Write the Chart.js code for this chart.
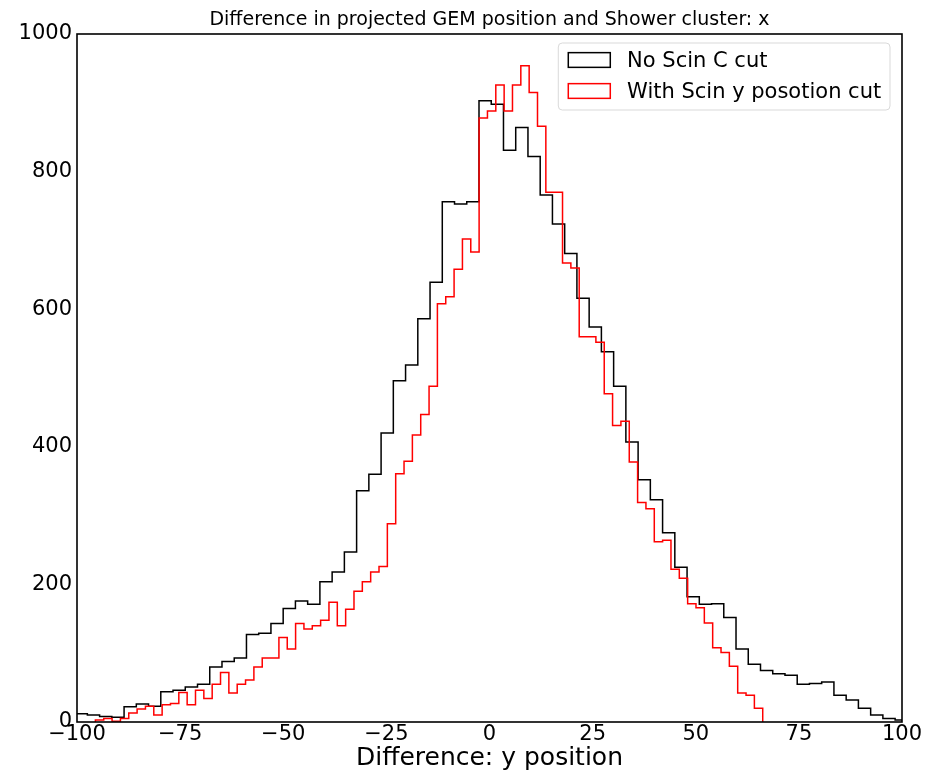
<!DOCTYPE html>
<html>
<head>
<meta charset="utf-8">
<script src="https://cdn.jsdelivr.net/npm/chart.js@4.4.0/dist/chart.umd.min.js"></script>
<style>
html,body{margin:0;padding:0;background:#fff;}
#wrap{width:927px;height:773px;}
</style>
</head>
<body>
<div id="wrap"><canvas id="c" width="927" height="773"></canvas></div>
<script>
// ---- data ----
const chartTitle = 'Difference in projected GEM position and Shower cluster: x';
const xAxisTitle = 'Difference: y position';
const seriesLabels = ['No Scin C cut', 'With Scin y posotion cut'];

// "No Scin C cut" histogram: first bin edge, bin width, counts
const noCutStart = -100.456;
const noCutWidth = 2.967;
const noCutCounts = [12,10,8,7,22,26,23,44,46,51,
  55,80,88,93,127,129,143,165,176,171,
  204,218,247,336,360,420,496,519,586,639,
  756,753,756,903,898,831,864,822,766,724,
  681,616,574,538,488,407,352,323,275,225,
  182,171,172,152,106,84,75,70,68,55,
  56,58,39,32,20,10,5,3];

// "With Scin y posotion cut" histogram
const scinCutStart = -95.54;
const scinCutWidth = 2.0222;
const scinCutCounts = [3,5,1,5,13,19,23,10,25,27,
  43,25,46,34,55,72,42,55,61,80,
  93,93,123,106,143,135,140,148,174,140,
  164,190,204,218,226,288,361,379,417,447,
  488,608,618,658,702,683,878,888,926,888,
  926,954,915,866,770,770,667,660,560,560,
  552,477,431,437,378,319,310,262,264,222,
  209,172,166,144,108,101,81,42,39,20];

const xTicks = [-100,-75,-50,-25,0,25,50,75,100];
const yTicks = [0,200,400,600,800,1000];

// ---- build step outlines (matplotlib histtype='step') ----
function stepPoints(start, width, counts) {
  const pts = [{x: start, y: 0}];
  counts.forEach((c, i) => pts.push({x: start + i * width, y: c}));
  const end = start + counts.length * width;
  pts.push({x: end, y: counts[counts.length - 1]});
  pts.push({x: end, y: 0});
  return pts;
}

const FONT = 'DejaVu Sans';

const framePlugin = {
  id: 'frame',
  afterDatasetsDraw(chart) {
    const {ctx, chartArea: a} = chart;
    ctx.save();
    ctx.strokeStyle = '#000';
    ctx.lineWidth = 1.6;
    ctx.strokeRect(a.left, a.top, a.right - a.left, a.bottom - a.top);
    ctx.restore();
  }
};

const legendPlugin = {
  id: 'mplLegend',
  afterDraw(chart) {
    const {ctx, chartArea: a} = chart;
    const fs = 21;
    ctx.save();
    ctx.font = fs + 'px "' + FONT + '"';
    const sets = chart.data.datasets;
    let maxW = 0;
    sets.forEach(d => { maxW = Math.max(maxW, ctx.measureText(d.label).width); });
    const pad = 0.4 * fs, handleW = 2.0 * fs, handleH = 0.7 * fs, gap = 0.8 * fs;
    const rowH = 31;
    const w = pad + handleW + gap + maxW + pad + 2;
    const h = 67;
    const right = a.right - 12;
    const left = right - w;
    const top = a.top + 9;
    // frame
    const r = 4;
    ctx.beginPath();
    ctx.moveTo(left + r, top);
    ctx.lineTo(right - r, top);
    ctx.quadraticCurveTo(right, top, right, top + r);
    ctx.lineTo(right, top + h - r);
    ctx.quadraticCurveTo(right, top + h, right - r, top + h);
    ctx.lineTo(left + r, top + h);
    ctx.quadraticCurveTo(left, top + h, left, top + h - r);
    ctx.lineTo(left, top + r);
    ctx.quadraticCurveTo(left, top, left + r, top);
    ctx.closePath();
    ctx.fillStyle = 'rgba(255,255,255,0.8)';
    ctx.fill();
    ctx.strokeStyle = '#d9d9d9';
    ctx.lineWidth = 1;
    ctx.stroke();
    sets.forEach((d, i) => {
      const cy = top + 17 + i * rowH;
      ctx.strokeStyle = d.borderColor;
      ctx.lineWidth = 1.5;
      ctx.strokeRect(left + 10, cy - handleH / 2, handleW, handleH);
      ctx.fillStyle = '#000';
      ctx.textBaseline = 'middle';
      ctx.textAlign = 'left';
      ctx.fillText(d.label, left + 10 + handleW + gap, cy + 1.5);
    });
    ctx.restore();
  }
};

const minusFmt = v => String(v).replace('-', '\u2212');

new Chart(document.getElementById('c'), {
  type: 'line',
  data: {
    datasets: [
      {
        label: seriesLabels[0],
        data: stepPoints(noCutStart, noCutWidth, noCutCounts),
        borderColor: '#000000',
        borderWidth: 1.5,
        stepped: true,
        pointRadius: 0,
        fill: false,
        order: 2
      },
      {
        label: seriesLabels[1],
        data: stepPoints(scinCutStart, scinCutWidth, scinCutCounts),
        borderColor: '#ff0000',
        borderWidth: 1.5,
        stepped: true,
        pointRadius: 0,
        fill: false,
        order: 1
      }
    ]
  },
  options: {
    responsive: false,
    animation: false,
    devicePixelRatio: 1,
    layout: {padding: {left: 0, right: 25, top: 0, bottom: 0}},
    plugins: {
      legend: {display: false},
      title: {display: false},
      tooltip: {enabled: false}
    },
    scales: {
      x: {
        type: 'linear',
        position: 'bottom',
        min: -100, max: 100,
        afterBuildTicks: s => { s.ticks = xTicks.map(v => ({value: v})); },
        afterFit: s => { s.height = 51; },
        grid: {display: false, drawTicks: false},
        border: {display: false},
        ticks: {
          autoSkip: false, maxRotation: 0, padding: 0,
          color: '#000', font: {family: FONT, size: 21},
          callback: minusFmt
        },
        title: {
          display: true, text: xAxisTitle, color: '#000',
          font: {family: FONT, size: 25}, padding: {top: 0, bottom: 0}
        }
      },
      x2: {
        type: 'linear',
        position: 'top',
        min: -100, max: 100,
        afterFit: s => { s.height = 34; },
        grid: {display: false, drawTicks: false},
        border: {display: false},
        ticks: {display: false},
        title: {
          display: true, text: chartTitle, color: '#000',
          font: {family: FONT, size: 19}, padding: {top: 9, bottom: 0}
        }
      },
      y: {
        type: 'linear',
        min: 0, max: 1000,
        afterBuildTicks: s => { s.ticks = yTicks.map(v => ({value: v})); },
        afterFit: s => { s.width = 77; },
        grid: {display: false, drawTicks: false},
        border: {display: false},
        ticks: {
          autoSkip: false, padding: 5,
          color: '#000', font: {family: FONT, size: 21},
          callback: minusFmt
        }
      }
    }
  },
  plugins: [framePlugin, legendPlugin]
});
</script>
</body>
</html>
